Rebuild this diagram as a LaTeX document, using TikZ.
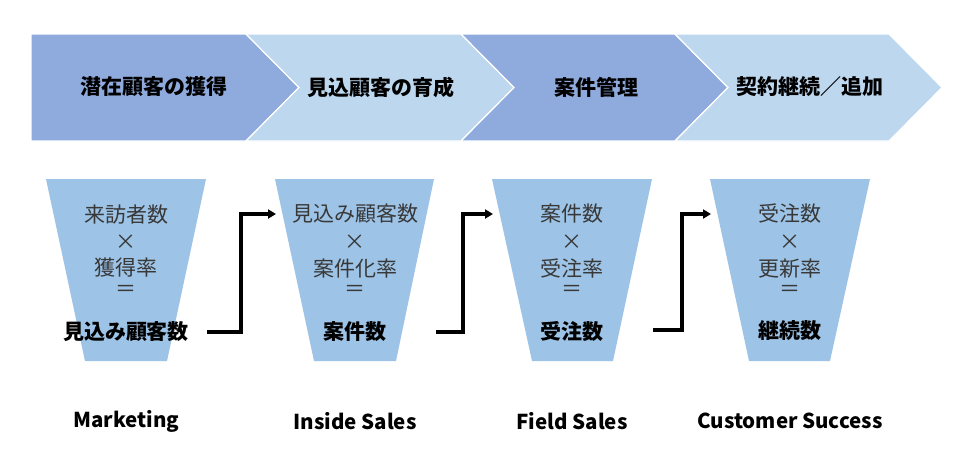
\documentclass[tikz,border=0pt]{standalone}
\usepackage{fontspec}
\setmainfont{Noto Sans CJK JP}
\usetikzlibrary{arrows.meta}
\definecolor{chevdark}{HTML}{8FAADC}
\definecolor{chevlight}{HTML}{BDD7EE}
\definecolor{funnel}{HTML}{9DC3E6}
\definecolor{txtgray}{HTML}{383838}
\tikzset{
  chevdk/.style={fill=chevdark, draw=white, line width=1.2pt, line join=miter},
  chevlt/.style={fill=chevlight, draw=white, line width=1.2pt, line join=miter},
  funnelshape/.style={fill=funnel, draw=none},
  headtxt/.style={font=\fontsize{21}{24}\selectfont\bfseries, text=black, inner sep=0pt},
  ftxt/.style={font=\fontsize{21}{24}\selectfont, text=txtgray, inner sep=0pt},
  restxt/.style={font=\fontsize{21}{24}\selectfont\bfseries, text=black, inner sep=0pt},
  roletxt/.style={font=\fontsize{20.5}{24}\selectfont\bfseries, text=black, inner sep=0pt},
  flowarrow/.style={line width=3.2pt, -{Triangle[length=8pt,width=9pt]}, line join=miter}
}
\begin{document}
\begin{tikzpicture}[x=1pt,y=-1pt]
\useasboundingbox (0,0) rectangle (964,467);
% chevrons
\def\ct{34}\def\cb{141}\def\cm{87.5}
\path[chevdk] (31,\ct) -- (246,\ct) -- (299,\cm) -- (246,\cb) -- (31,\cb) -- cycle;
\path[chevlt] (246,\ct) -- (461,\ct) -- (514,\cm) -- (461,\cb) -- (246,\cb) -- (299,\cm) -- cycle;
\path[chevdk] (461,\ct) -- (675,\ct) -- (728,\cm) -- (675,\cb) -- (461,\cb) -- (514,\cm) -- cycle;
\path[chevlt] (675,\ct) -- (889,\ct) -- (942,\cm) -- (889,\cb) -- (675,\cb) -- (728,\cm) -- cycle;
\node[headtxt] (h1) at (154,87) {潜在顧客の獲得};
\node[headtxt] (h2) at (381,87) {見込顧客の育成};
\node[headtxt] (h3) at (596,87) {案件管理};
\node[headtxt] (h4) at (810,87) {契約継続／追加};
% funnels
\path[funnelshape] (46,179) -- (206,179) -- (167,361) -- (85,361) -- cycle;
\path[funnelshape] (275,179) -- (434,179) -- (396,361) -- (314,361) -- cycle;
\path[funnelshape] (492,179) -- (652,179) -- (613,361) -- (532,361) -- cycle;
\path[funnelshape] (710,179) -- (870,179) -- (830,361) -- (749,361) -- cycle;
% funnel 1
\node[ftxt] (a1) at (126,215) {来訪者数};
\node[ftxt] (b1) at (126,242) {×};
\node[ftxt] (c1) at (126,268) {獲得率};
\node[ftxt] (d1) at (126,291) {＝};
\node[restxt] (r1) at (126,332) {見込み顧客数};
% funnel 2
\node[ftxt] (a2) at (355,214) {見込み顧客数};
\node[ftxt] (b2) at (355,242) {×};
\node[ftxt] (c2) at (355,269) {案件化率};
\node[ftxt] (d2) at (355,291) {＝};
\node[restxt] (r2) at (355,332) {案件数};
% funnel 3
\node[ftxt] (a3) at (572,214) {案件数};
\node[ftxt] (b3) at (572,242) {×};
\node[ftxt] (c3) at (572,269) {受注率};
\node[ftxt] (d3) at (572,291) {＝};
\node[restxt] (r3) at (572,331) {受注数};
% funnel 4
\node[ftxt] (a4) at (790,214) {受注数};
\node[ftxt] (b4) at (790,242) {×};
\node[ftxt] (c4) at (790,269) {更新率};
\node[ftxt] (d4) at (790,291) {＝};
\node[restxt] (r4) at (790,331) {継続数};
% arrows
\coordinate (s1) at (207,332);
\coordinate (e1) at (276,214);
\coordinate (s2) at (436,332);
\coordinate (e2) at (493,214);
\coordinate (s3) at (653,330);
\coordinate (e3) at (711,214);
\draw[flowarrow] (s1) -- (241,332) |- (e1);
\draw[flowarrow] (s2) -- (463,332) |- (e2);
\draw[flowarrow] (s3) -- (682,330) |- (e3);
% roles
\node[roletxt] (m1) at (126.5,421) {Marketing};
\node[roletxt] (m2) at (355,421) {Inside Sales};
\node[roletxt] (m3) at (572,421) {Field Sales};
\node[roletxt] (m4) at (790,421) {Customer Success};
\end{tikzpicture}
\end{document}
